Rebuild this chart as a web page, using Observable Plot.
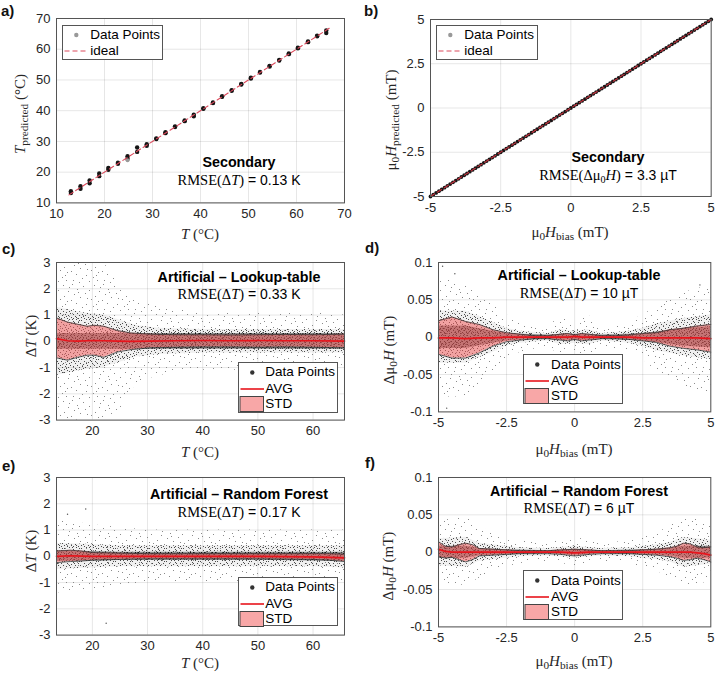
<!DOCTYPE html>
<html>
<head>
<meta charset="utf-8">
<script src="https://cdn.jsdelivr.net/npm/d3@7"></script>
<script src="https://cdn.jsdelivr.net/npm/@observablehq/plot@0.6"></script>
<style>
  html, body { margin: 0; padding: 0; background: #fff; }
  #fig { position: relative; width: 719px; height: 676px; overflow: hidden;
         font-family: "Liberation Sans", Arial, sans-serif; color: #262626; }
  .t { position: absolute; white-space: nowrap; transform: translate(-50%, -50%); line-height: 1; }
  .rot { transform: translate(-50%, -50%) rotate(-90deg); }
  .serif { font-family: "Liberation Serif", "DejaVu Serif", serif; font-size: 15px; color: #262626; }
  .serif sub { font-size: 75%; vertical-align: -0.3em; line-height: 0; }
  .letter { position: absolute; font-weight: bold; font-size: 15px; color: #111; transform: translateY(-50%); line-height: 1; }
  .title { font-weight: bold; font-size: 14.3px; color: #000; }
  .rmse { font-size: 14px; color: #000; }
  .rmse .s { font-family: "Liberation Serif", "DejaVu Serif", serif; font-size: 14.5px; }
  .rmse sub { font-size: 70%; vertical-align: -0.3em; line-height: 0; }
  .legend { position: absolute; box-sizing: border-box; border: 1px solid #555; background: #fff; }
  .legend span { position: absolute; font-size: 13.5px; color: #000; transform: translateY(-50%); line-height: 1; white-space: nowrap; }
  .legend svg { position: absolute; left: 0; top: 0; }
</style>
</head>
<body>
<svg width="0" height="0" style="position:absolute">
  <defs>
    <!-- speckle textures for the scatter clouds: faint haze, medium and dense cores -->
    <pattern id="spk-sparse" width="31" height="29" patternUnits="userSpaceOnUse">
      <g fill="#8a8a8a">
        <rect x="2" y="1" width="1" height="1"/><rect x="13" y="3" width="1" height="1"/><rect x="24" y="2" width="1" height="1"/>
        <rect x="7" y="6" width="1" height="1"/><rect x="19" y="7" width="1" height="1"/><rect x="29" y="8" width="1" height="1"/>
        <rect x="4" y="11" width="1" height="1"/><rect x="15" y="10" width="1" height="1"/><rect x="25" y="13" width="1" height="1"/>
        <rect x="10" y="14" width="1" height="1"/><rect x="21" y="16" width="1" height="1"/><rect x="1" y="17" width="1" height="1"/>
        <rect x="28" y="18" width="1" height="1"/><rect x="6" y="20" width="1" height="1"/><rect x="16" y="21" width="1" height="1"/>
        <rect x="12" y="24" width="1" height="1"/><rect x="23" y="23" width="1" height="1"/><rect x="3" y="26" width="1" height="1"/>
        <rect x="19" y="27" width="1" height="1"/><rect x="27" y="26" width="1" height="1"/><rect x="9" y="28" width="1" height="1"/>
        <rect x="30" y="4" width="1" height="1"/><rect x="17" y="15" width="1" height="1"/><rect x="8" y="9" width="1" height="1"/>
        <rect x="26" y="21" width="1" height="1"/>
      </g>
    </pattern>
    <pattern id="spk-medium" width="17" height="13" patternUnits="userSpaceOnUse">
      <rect width="17" height="13" fill="#888" fill-opacity="0.12"/>
      <g fill="#4a4a4a">
        <rect x="0" y="0" width="1" height="1"/><rect x="5" y="1" width="1" height="1"/><rect x="10" y="0" width="1" height="1"/>
        <rect x="14" y="2" width="1" height="1"/><rect x="2" y="3" width="1" height="1"/><rect x="8" y="3" width="1" height="1"/>
        <rect x="12" y="4" width="1" height="1"/><rect x="16" y="5" width="1" height="1"/><rect x="4" y="5" width="1" height="1"/>
        <rect x="7" y="6" width="1" height="1"/><rect x="1" y="7" width="1" height="1"/><rect x="11" y="7" width="1" height="1"/>
        <rect x="14" y="8" width="1" height="1"/><rect x="6" y="8" width="1" height="1"/><rect x="3" y="9" width="1" height="1"/>
        <rect x="9" y="9" width="1" height="1"/><rect x="16" y="10" width="1" height="1"/><rect x="12" y="11" width="1" height="1"/>
        <rect x="0" y="11" width="1" height="1"/><rect x="5" y="11" width="1" height="1"/><rect x="8" y="12" width="1" height="1"/>
        <rect x="2" y="12" width="1" height="1"/><rect x="14" y="12" width="1" height="1"/><rect x="10" y="5" width="1" height="1"/>
        <rect x="13" y="0" width="1" height="1"/><rect x="7" y="10" width="1" height="1"/><rect x="15" y="3" width="1" height="1"/>
        <rect x="3" y="1" width="1" height="1"/>
      </g>
    </pattern>
    <pattern id="spk-dense" width="11" height="9" patternUnits="userSpaceOnUse">
      <rect width="11" height="9" fill="#3a3a3a" fill-opacity="0.55"/>
      <g fill="#111">
        <rect x="0" y="0" width="1" height="1"/><rect x="3" y="1" width="1" height="1"/><rect x="7" y="0" width="1" height="1"/>
        <rect x="9" y="2" width="1" height="1"/><rect x="1" y="3" width="1" height="1"/><rect x="5" y="3" width="1" height="1"/>
        <rect x="8" y="4" width="1" height="1"/><rect x="2" y="5" width="1" height="1"/><rect x="6" y="6" width="1" height="1"/>
        <rect x="10" y="6" width="1" height="1"/><rect x="0" y="7" width="1" height="1"/><rect x="4" y="7" width="1" height="1"/>
        <rect x="8" y="8" width="1" height="1"/><rect x="3" y="4" width="1" height="1"/><rect x="6" y="2" width="1" height="1"/>
      </g>
    </pattern>
  </defs>
</svg>
<div id="fig"></div>
<script>
// ---------- a) secondary sensor: predicted vs. set temperature ----------
const tempSet      = [13, 15, 16.9, 18.9, 20.8, 22.8, 24.8, 26.8, 28.8, 30.8, 32.7, 34.7, 36.7, 38.6, 40.6, 42.6, 44.5, 46.5, 48.5, 50.5, 52.4, 54.4, 56.4, 58.4, 60.3, 62.4, 64.3, 66.2];
const tempPredLow  = [13.2, 14.6, 16.4, 18.7, 20.8, 22.7, 24.4, 26.6, 28.6, 30.8, 32.7, 34.7, 36.6, 38.2, 40.6, 42.5, 44.5, 46.5, 48.5, 50.5, 52.4, 54.4, 56.3, 58.4, 60.3, 62.3, 64.2, 65.3];
const tempPredHigh = [13.8, 15.4, 17.3, 19.6, 21.4, 23.1, 25.2, 28.0, 29.1, 31.0, 33.0, 34.9, 36.8, 38.7, 40.8, 42.7, 44.7, 46.7, 48.7, 50.7, 52.6, 54.6, 56.5, 58.6, 60.5, 62.5, 64.4, 66.1];
const tempIdeal    = [12.6, 67];

// ---------- b) secondary sensor: predicted vs. bias field (mT) ----------
// predicted field agrees with the bias field within 3.3 µT, below the plot resolution
const biasField = [-5, -4.9, -4.8, -4.7, -4.6, -4.5, -4.4, -4.3, -4.2, -4.1, -4, -3.9, -3.8, -3.7, -3.6, -3.5, -3.4, -3.3, -3.2, -3.1,
  -3, -2.9, -2.8, -2.7, -2.6, -2.5, -2.4, -2.3, -2.2, -2.1, -2, -1.9, -1.8, -1.7, -1.6, -1.5, -1.4, -1.3, -1.2, -1.1,
  -1, -0.9, -0.8, -0.7, -0.6, -0.5, -0.4, -0.3, -0.2, -0.1, 0, 0.1, 0.2, 0.3, 0.4, 0.5, 0.6, 0.7, 0.8, 0.9,
  1, 1.1, 1.2, 1.3, 1.4, 1.5, 1.6, 1.7, 1.8, 1.9, 2, 2.1, 2.2, 2.3, 2.4, 2.5, 2.6, 2.7, 2.8, 2.9,
  3, 3.1, 3.2, 3.3, 3.4, 3.5, 3.6, 3.7, 3.8, 3.9, 4, 4.1, 4.2, 4.3, 4.4, 4.5, 4.6, 4.7, 4.8, 4.9, 5];
const fieldIdeal = [-5, 5];

// ---------- c) lookup table: temperature error ----------
const cT      = [13.5, 15.5, 17.3, 19.1, 20.3, 22.1, 24.5, 26.9, 30.5, 35, 40, 45, 50, 55, 60, 65.7];
const cStdHi  = [0.89, 0.73, 0.65, 0.57, 0.61, 0.57, 0.41, 0.32, 0.27, 0.25, 0.25, 0.24, 0.25, 0.26, 0.25, 0.27];
const cStdLo  = [-0.63, -0.72, -0.61, -0.53, -0.53, -0.61, -0.41, -0.32, -0.25, -0.23, -0.22, -0.22, -0.23, -0.22, -0.23, -0.25];
const cAvg    = [0.1, 0.02, 0.01, 0.02, 0.03, 0.02, 0.01, 0.0, 0.01, 0.02, 0.03, 0.02, 0.03, 0.02, 0.02, 0.01];
const cCloudT   = [13.5, 18, 22, 25, 28, 32, 40, 50, 60, 65.7];
const cOuterHi  = [3, 3, 3, 2.2, 1.6, 1.3, 1.1, 1.1, 1.1, 1.0];
const cOuterLo  = [-3, -3, -3, -2.6, -1.6, -1.3, -1.1, -1.1, -1.0, -1.0];
const cInnerHi  = [1.3, 1.1, 1.0, 0.8, 0.6, 0.5, 0.45, 0.45, 0.45, 0.45];
const cInnerLo  = [-1.3, -1.1, -1.0, -0.8, -0.6, -0.5, -0.45, -0.45, -0.45, -0.45];
const cCoreHi   = [0.3, 0.3, 0.3, 0.3, 0.3, 0.3, 0.3, 0.3, 0.3, 0.3];
const cCoreLo   = [-0.3, -0.3, -0.3, -0.3, -0.3, -0.3, -0.3, -0.3, -0.3, -0.3];

// ---------- d) lookup table: field error (mT) ----------
const dX     = [-5, -4.5, -4, -3.5, -3, -2.5, -2, -1.5, -1, -0.5, -0.25, 0, 0.25, 0.5, 1, 1.5, 2, 2.5, 3, 3.5, 4, 4.5, 5];
const dStdHi = [0.022, 0.027, 0.021, 0.017, 0.010, 0.006, 0.004, 0.002, 0.002, 0.004, 0.005, 0.003, 0.005, 0.004, 0.002, 0.002, 0.003, 0.005, 0.006, 0.010, 0.012, 0.015, 0.017];
const dStdLo = [-0.023, -0.028, -0.028, -0.021, -0.012, -0.006, -0.004, -0.002, -0.002, -0.004, -0.005, -0.003, -0.005, -0.004, -0.002, -0.002, -0.003, -0.005, -0.007, -0.012, -0.015, -0.017, -0.020];
const dAvg   = [-0.001, -0.001, -0.002, -0.001, -0.001, 0, 0, 0, 0, 0, 0, 0.001, 0, 0, 0, 0, 0, -0.001, -0.001, -0.001, -0.001, -0.001, -0.002];
const dCloudX  = [-5, -4, -3, -2.5, -2, -1, -0.5, 0, 0.5, 1, 2, 2.5, 3, 4, 5];
const dOuterHi = [0.08, 0.07, 0.045, 0.03, 0.02, 0.012, 0.03, 0.02, 0.03, 0.012, 0.02, 0.03, 0.04, 0.06, 0.07];
const dOuterLo = [-0.08, -0.08, -0.05, -0.03, -0.02, -0.012, -0.025, -0.02, -0.025, -0.012, -0.02, -0.03, -0.045, -0.065, -0.08];
const dInnerHi = [0.035, 0.035, 0.02, 0.012, 0.008, 0.005, 0.01, 0.008, 0.01, 0.005, 0.008, 0.012, 0.018, 0.025, 0.03];
const dInnerLo = [-0.035, -0.035, -0.02, -0.012, -0.008, -0.005, -0.01, -0.008, -0.01, -0.005, -0.008, -0.012, -0.018, -0.025, -0.03];
const dCoreHi  = [0.015, 0.015, 0.008, 0.005, 0.004, 0.003, 0.004, 0.004, 0.004, 0.003, 0.004, 0.005, 0.007, 0.012, 0.014];
const dCoreLo  = [-0.015, -0.015, -0.008, -0.005, -0.004, -0.003, -0.004, -0.004, -0.004, -0.003, -0.004, -0.005, -0.007, -0.012, -0.014];
const dOutlierX = [-4.85, -4.7, -4.4, 4.6];
const dOutlierY = [0.095, -0.095, 0.085, 0.07];

// ---------- e) random forest: temperature error ----------
const eT     = [13.5, 16, 18, 20, 25, 30, 40, 50, 60, 63, 65.7];
const eStdHi = [0.2, 0.23, 0.2, 0.14, 0.12, 0.1, 0.1, 0.1, 0.1, 0.1, 0.08];
const eStdLo = [-0.24, -0.2, -0.18, -0.15, -0.12, -0.1, -0.1, -0.1, -0.12, -0.15, -0.2];
const eAvg   = [0.0, 0.02, 0.01, 0.0, 0.0, 0.0, 0.0, 0.0, -0.02, -0.04, -0.06];
const eCloudT  = [13.5, 20, 25, 30, 40, 50, 60, 65.7];
const eOuterHi = [1.4, 1.2, 1.1, 1.0, 1.0, 1.0, 1.0, 1.0];
const eOuterLo = [-1.4, -1.3, -1.1, -1.0, -1.0, -1.0, -1.0, -1.1];
const eInnerHi = [0.5, 0.45, 0.4, 0.4, 0.4, 0.4, 0.4, 0.4];
const eInnerLo = [-0.5, -0.45, -0.4, -0.4, -0.4, -0.4, -0.4, -0.45];
const eCoreHi  = [0.2, 0.18, 0.15, 0.15, 0.15, 0.15, 0.15, 0.15];
const eCoreLo  = [-0.2, -0.18, -0.15, -0.15, -0.15, -0.15, -0.18, -0.2];
const eOutlierT  = [22.5, 18.8, 15.5];
const eOutlierDT = [-2.55, 1.8, 1.6];

// ---------- f) random forest: field error (mT) ----------
const fX     = [-5, -4.75, -4.5, -4.25, -4, -3.75, -3.5, -3, -2.5, -2, -1.5, -1, -0.5, 0, 0.5, 1, 1.5, 2, 2.5, 3, 3.5, 3.75, 4, 4.25, 4.5, 4.75, 5];
const fStdHi = [0.014, 0.008, 0.007, 0.010, 0.012, 0.010, 0.005, 0.004, 0.003, 0.002, 0.002, 0.002, 0.003, 0.004, 0.003, 0.002, 0.002, 0.002, 0.003, 0.004, 0.006, 0.008, 0.012, 0.011, 0.007, 0.006, 0.007];
const fStdLo = [-0.006, -0.008, -0.007, -0.010, -0.013, -0.010, -0.005, -0.004, -0.003, -0.002, -0.002, -0.002, -0.003, -0.005, -0.003, -0.002, -0.002, -0.002, -0.003, -0.004, -0.006, -0.008, -0.011, -0.010, -0.008, -0.010, -0.013];
const fAvg   = [0.004, 0.001, 0, 0, 0, 0, 0, 0, 0, 0, 0, 0, 0, -0.001, 0, 0, 0, 0, 0, 0, 0, 0, 0, 0, -0.001, -0.002, -0.004];
const fCloudX  = [-5, -4, -3.5, -3, -2, -1, 0, 1, 2, 3, 3.5, 4, 5];
const fOuterHi = [0.04, 0.05, 0.035, 0.025, 0.015, 0.012, 0.02, 0.012, 0.015, 0.025, 0.035, 0.05, 0.04];
const fOuterLo = [-0.04, -0.045, -0.035, -0.025, -0.015, -0.012, -0.018, -0.012, -0.015, -0.025, -0.035, -0.045, -0.04];
const fInnerHi = [0.018, 0.02, 0.012, 0.01, 0.006, 0.005, 0.008, 0.005, 0.006, 0.01, 0.013, 0.02, 0.016];
const fInnerLo = [-0.018, -0.02, -0.012, -0.01, -0.006, -0.005, -0.008, -0.005, -0.006, -0.01, -0.013, -0.02, -0.016];
const fCoreHi  = [0.008, 0.008, 0.005, 0.004, 0.003, 0.002, 0.004, 0.002, 0.003, 0.004, 0.005, 0.008, 0.008];
const fCoreLo  = [-0.008, -0.008, -0.005, -0.004, -0.003, -0.002, -0.004, -0.002, -0.003, -0.004, -0.005, -0.008, -0.008];

// ---------- tick values ----------
const tempTicksA  = [10, 20, 30, 40, 50, 60, 70];
const fieldTicks  = [-5, -2.5, 0, 2.5, 5];
const tempTicksC  = [20, 30, 40, 50, 60];
const dTempTicks  = [-3, -2, -1, 0, 1, 2, 3];
const dFieldTicks = [-0.1, -0.05, 0, 0.05, 0.1];

// ---------- drawing ----------
const fig = document.getElementById("fig");
const band = (xs, lo, hi) => xs.map((x, i) => ({x, lo: lo[i], hi: hi[i]}));
const pairs = (xs, ys) => xs.map((x, i) => [x, ys[i]]);
const fmt = d => String(d);
const RED = "#e8141c";
const IDEAL = "#dc4a5c";

function panel([fl, ft, fr, fb], xDomain, yDomain, xTicks, yTicks, marks) {
  const mL = 48, mR = 8, mT = 8, mB = 26;
  const p = Plot.plot({
    width: fr - fl + mL + mR,
    height: fb - ft + mT + mB,
    marginLeft: mL, marginRight: mR, marginTop: mT, marginBottom: mB,
    x: {domain: xDomain},
    y: {domain: yDomain},
    style: {fontFamily: '"Liberation Sans", Arial, sans-serif', fontSize: "13px",
            color: "#262626", background: "transparent", overflow: "visible"},
    marks: [
      Plot.gridX(xTicks, {stroke: "#000", strokeOpacity: 0.1}),
      Plot.gridY(yTicks, {stroke: "#000", strokeOpacity: 0.1}),
      ...marks,
      Plot.frame({stroke: "#555"}),
      Plot.axisX(xTicks, {tickSize: 0, tickPadding: 6, tickFormat: fmt, label: null}),
      Plot.axisY(yTicks, {tickSize: 0, tickPadding: 6, tickFormat: fmt, label: null})
    ]
  });
  p.style.position = "absolute";
  p.style.left = (fl - mL) + "px";
  p.style.top = (ft - mT) + "px";
  fig.appendChild(p);
}

function errorMarks(cx, oLo, oHi, iLo, iHi, kLo, kHi, sx, sLo, sHi, avg) {
  return [
    Plot.areaY(band(cx, oLo, oHi), {x: "x", y1: "lo", y2: "hi", fill: "url(#spk-sparse)"}),
    Plot.areaY(band(cx, iLo, iHi), {x: "x", y1: "lo", y2: "hi", fill: "url(#spk-medium)"}),
    Plot.areaY(band(cx, kLo, kHi), {x: "x", y1: "lo", y2: "hi", fill: "url(#spk-dense)"}),
    Plot.areaY(band(sx, sLo, sHi), {x: "x", y1: "lo", y2: "hi", fill: "#f26060", fillOpacity: 0.55}),
    Plot.line(pairs(sx, sHi), {stroke: "#333", strokeWidth: 0.8}),
    Plot.line(pairs(sx, sLo), {stroke: "#333", strokeWidth: 0.8}),
    Plot.line(pairs(sx, avg), {stroke: RED, strokeWidth: 1.7})
  ];
}

// a)
panel([56, 18.3, 344, 202.7], [10, 70], [10, 70], tempTicksA, tempTicksA, [
  Plot.dot(pairs(tempSet, tempPredLow), {r: 2.2, fill: "#151515", stroke: "none"}),
  Plot.dot(pairs(tempSet, tempPredHigh), {r: 2.2, fill: "#151515", stroke: "none"}),
  Plot.dot([[24.8, 23.9]], {r: 2, fill: "#999", stroke: "none"}),
  Plot.line(pairs(tempIdeal, tempIdeal), {stroke: IDEAL, strokeWidth: 1.1, strokeDasharray: "5,3"})
]);

// b)
panel([430, 19, 710.7, 196], [-5, 5], [-5, 5], fieldTicks, fieldTicks, [
  Plot.dot(pairs(biasField, biasField), {r: 1.9, fill: "#151515", stroke: "none"}),
  Plot.line(pairs(fieldIdeal, fieldIdeal), {stroke: "#c8303c", strokeWidth: 1.1, strokeDasharray: "5,3"})
]);

// c)
panel([56, 261.7, 344, 419.3], [13.5, 65.7], [-3, 3], tempTicksC, dTempTicks,
  errorMarks(cCloudT, cOuterLo, cOuterHi, cInnerLo, cInnerHi, cCoreLo, cCoreHi, cT, cStdLo, cStdHi, cAvg));

// d)
panel([437.7, 262.3, 710, 411.7], [-5, 5], [-0.1, 0.1], fieldTicks, dFieldTicks, [
  Plot.dot(pairs(dOutlierX, dOutlierY), {r: 0.7, fill: "#555", stroke: "none"}),
  ...errorMarks(dCloudX, dOuterLo, dOuterHi, dInnerLo, dInnerHi, dCoreLo, dCoreHi, dX, dStdLo, dStdHi, dAvg)
]);

// e)
panel([56, 476.7, 344, 634.3], [13.5, 65.7], [-3, 3], tempTicksC, dTempTicks, [
  Plot.dot(pairs(eOutlierT, eOutlierDT), {r: 0.7, fill: "#555", stroke: "none"}),
  ...errorMarks(eCloudT, eOuterLo, eOuterHi, eInnerLo, eInnerHi, eCoreLo, eCoreHi, eT, eStdLo, eStdHi, eAvg)
]);

// f)
panel([437.7, 477.3, 710, 626.7], [-5, 5], [-0.1, 0.1], fieldTicks, dFieldTicks,
  errorMarks(fCloudX, fOuterLo, fOuterHi, fInnerLo, fInnerHi, fCoreLo, fCoreHi, fX, fStdLo, fStdHi, fAvg));

// ---------- text: panel letters, axis labels, annotations ----------
function put(html, x, y, cls) {
  const el = document.createElement("div");
  el.className = cls;
  el.style.left = x + "px";
  el.style.top = y + "px";
  el.innerHTML = html;
  fig.appendChild(el);
}
const letters = [["a)", 1, 10], ["b)", 364, 10], ["c)", 2, 248], ["d)", 365, 247], ["e)", 2, 465], ["f)", 365, 462]];
letters.forEach(([s, x, y]) => put(s, x, y, "letter"));

const labT = '<i>T</i> (°C)';
const labBias = 'μ<sub>0</sub><i>H</i><sub>bias</sub> (mT)';
put(labT, 200, 234, "t serif");
put('<i>T</i><sub>predicted</sub> (°C)', 20, 114, "t rot serif");
put(labBias, 570, 232, "t serif");
put('μ<sub>0</sub><i>H</i><sub>predicted</sub> (mT)', 391, 120, "t rot serif");
put(labT, 200, 452, "t serif");
put('Δ<i>T</i> (K)', 31, 336, "t rot serif");
put(labBias, 574, 449, "t serif");
put('Δμ<sub>0</sub><i>H</i> (mT)', 389, 350, "t rot serif");
put(labT, 200, 663, "t serif");
put('Δ<i>T</i> (K)', 31, 551, "t rot serif");
put(labBias, 574, 661, "t serif");
put('Δμ<sub>0</sub><i>H</i> (mT)', 388, 566, "t rot serif");

const notes = [
  ["Secondary", '<span class="s">RMSE(Δ<i>T</i>)</span> = 0.13 K', 239, 162, 180],
  ["Secondary", '<span class="s">RMSE(Δμ<sub>0</sub><i>H</i>)</span> = 3.3 µT', 608, 157, 175],
  ["Artificial – Lookup-table", '<span class="s">RMSE(Δ<i>T</i>)</span> = 0.33 K', 239, 277, 294],
  ["Artificial – Lookup-table", '<span class="s">RMSE(Δ<i>T</i>)</span> = 10 µT', 579, 275, 293],
  ["Artificial – Random Forest", '<span class="s">RMSE(Δ<i>T</i>)</span> = 0.17 K', 239, 494, 512],
  ["Artificial – Random Forest", '<span class="s">RMSE(Δ<i>T</i>)</span> = 6 µT', 579, 491, 508]
];
notes.forEach(([title, rmse, x, y1, y2]) => {
  put(title, x, y1, "t title");
  put(rmse, x, y2, "t rmse");
});

// ---------- legends ----------
function legend(left, top, w, h, textX, items) {
  const box = document.createElement("div");
  box.className = "legend";
  Object.assign(box.style, {left: left + "px", top: top + "px", width: w + "px", height: h + "px"});
  const ns = "http://www.w3.org/2000/svg";
  const svg = document.createElementNS(ns, "svg");
  svg.setAttribute("width", 30); svg.setAttribute("height", h);
  let inner = "";
  items.forEach(({kind, label, cy}) => {
    if (kind === "dotGray") inner += `<circle cx="13.3" cy="${cy}" r="2.2" fill="#999"/>`;
    if (kind === "dot") inner += `<circle cx="13.3" cy="${cy}" r="2.2" fill="#333"/>`;
    if (kind === "dash") inner += `<line x1="1.5" x2="25.5" y1="${cy}" y2="${cy}" stroke="${IDEAL}" stroke-width="1.1" stroke-dasharray="5,3"/>`;
    if (kind === "line") inner += `<line x1="1.5" x2="25" y1="${cy}" y2="${cy}" stroke="${RED}" stroke-width="1.6"/>`;
    if (kind === "patch") inner += `<rect x="1" y="${cy - 7.5}" width="23.5" height="15" fill="#f8a7a7" stroke="#444" stroke-width="1"/>`;
    const sp = document.createElement("span");
    sp.textContent = label;
    sp.style.left = textX + "px";
    sp.style.top = cy + "px";
    box.appendChild(sp);
  });
  svg.innerHTML = inner;
  box.appendChild(svg);
  fig.appendChild(box);
}
const twoItems = [{kind: "dotGray", label: "Data Points", cy: 9}, {kind: "dash", label: "ideal", cy: 25}];
const threeItems = [{kind: "dot", label: "Data Points", cy: 9.5}, {kind: "line", label: "AVG", cy: 26}, {kind: "patch", label: "STD", cy: 41}];
legend(61.7, 25, 101, 34.5, 27.5, twoItems);
legend(436, 25, 101.7, 34.5, 27.3, twoItems);
legend(238.3, 361.7, 99.4, 51, 26, threeItems);
legend(523.3, 354.3, 100, 50, 26.7, threeItems);
legend(238.3, 576.7, 99.4, 49.5, 26, threeItems);
legend(523.3, 570, 100, 49.5, 26.7, threeItems);
</script>
</body>
</html>
